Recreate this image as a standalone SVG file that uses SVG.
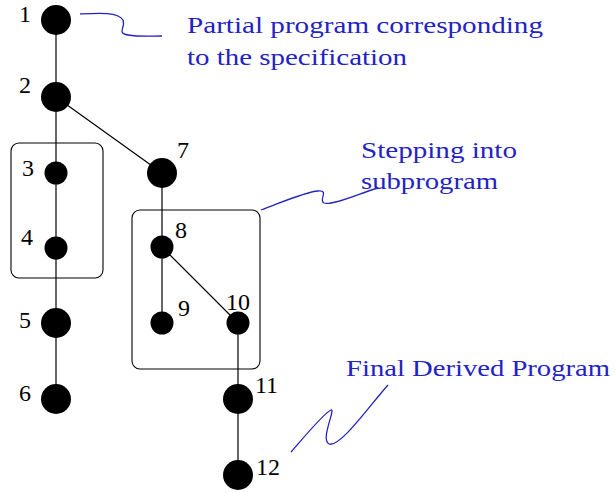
<svg xmlns="http://www.w3.org/2000/svg" width="616" height="493" viewBox="0 0 616 493">
  <style>
    .edge { stroke: #000; stroke-width: 1.2; fill: none; }
    .box { stroke: #000; stroke-width: 1.1; fill: none; }
    .big { fill: #000; }
    .lbl { font-family: "Liberation Serif", "DejaVu Serif", serif; font-size: 24px; fill: #000; }
    .note { font-family: "Liberation Serif", "DejaVu Serif", serif; font-size: 24px; fill: #2323c4; }
    .wave { stroke: #2323c4; stroke-width: 1.3; fill: none; }
  </style>
  <rect width="616" height="493" fill="#fff"/>

  <!-- grouping boxes -->
  <g id="boxes">
    <rect class="box" x="11" y="143" width="92" height="135" rx="8"/>
    <rect class="box" x="132" y="210" width="128" height="159" rx="8"/>
  </g>

  <!-- connectors -->
  <g id="edges">
    <line class="edge" x1="56" y1="20" x2="56" y2="399"/>
    <line class="edge" x1="56" y1="97" x2="162" y2="173"/>
    <line class="edge" x1="162" y1="173" x2="162" y2="323"/>
    <line class="edge" x1="162" y1="247" x2="238" y2="323"/>
    <line class="edge" x1="238" y1="323" x2="238" y2="475"/>
  </g>

  <!-- nodes -->
  <g id="n1"><circle class="big" cx="56" cy="20" r="15"/><text class="lbl" x="19" y="22">1</text></g>
  <g id="n2"><circle class="big" cx="56" cy="97" r="15"/><text class="lbl" x="19" y="93">2</text></g>
  <g id="n3"><circle class="big" cx="56" cy="173" r="11.5"/><text class="lbl" x="22" y="176">3</text></g>
  <g id="n4"><circle class="big" cx="56" cy="248" r="11.5"/><text class="lbl" x="21" y="245">4</text></g>
  <g id="n5"><circle class="big" cx="56" cy="323" r="15"/><text class="lbl" x="19" y="328">5</text></g>
  <g id="n6"><circle class="big" cx="56" cy="399" r="15"/><text class="lbl" x="19" y="401">6</text></g>
  <g id="n7"><circle class="big" cx="162" cy="173" r="15"/><text class="lbl" x="177" y="158">7</text></g>
  <g id="n8"><circle class="big" cx="162" cy="247" r="11.5"/><text class="lbl" x="175" y="238">8</text></g>
  <g id="n9"><circle class="big" cx="162" cy="323" r="11.5"/><text class="lbl" x="178" y="316">9</text></g>
  <g id="n10"><circle class="big" cx="238" cy="323" r="11.5"/><text class="lbl" x="226" y="310">10</text></g>
  <g id="n11"><circle class="big" cx="238" cy="399" r="15"/><text class="lbl" x="255" y="393">11</text></g>
  <g id="n12"><circle class="big" cx="238" cy="475" r="15"/><text class="lbl" x="256" y="475">12</text></g>

  <!-- annotations -->
  <g id="note-partial">
    <path class="wave" d="M80,14 C100,13 118,12 123,20 C126,28 116,33 128,35 C140,37 150,36 162,36"/>
    <text class="note" x="187" y="33" textLength="356" lengthAdjust="spacingAndGlyphs">Partial program corresponding</text>
    <text class="note" x="187" y="65" textLength="220" lengthAdjust="spacingAndGlyphs">to the specification</text>
  </g>
  <g id="note-stepping">
    <path class="wave" d="M261,210 C285,201 305,192 318,191 C330,190 318,200 324,203 C332,206 360,193 378,188"/>
    <text class="note" x="361" y="158" textLength="156" lengthAdjust="spacingAndGlyphs">Stepping into</text>
    <text class="note" x="361" y="189" textLength="137" lengthAdjust="spacingAndGlyphs">subprogram</text>
  </g>
  <g id="note-final">
    <path class="wave" d="M291,452 C305,436 325,412 331,410 C336,408 320,440 329,444 C340,448 370,405 388,385"/>
    <text class="note" x="346" y="376" textLength="264" lengthAdjust="spacingAndGlyphs">Final Derived Program</text>
  </g>
</svg>
